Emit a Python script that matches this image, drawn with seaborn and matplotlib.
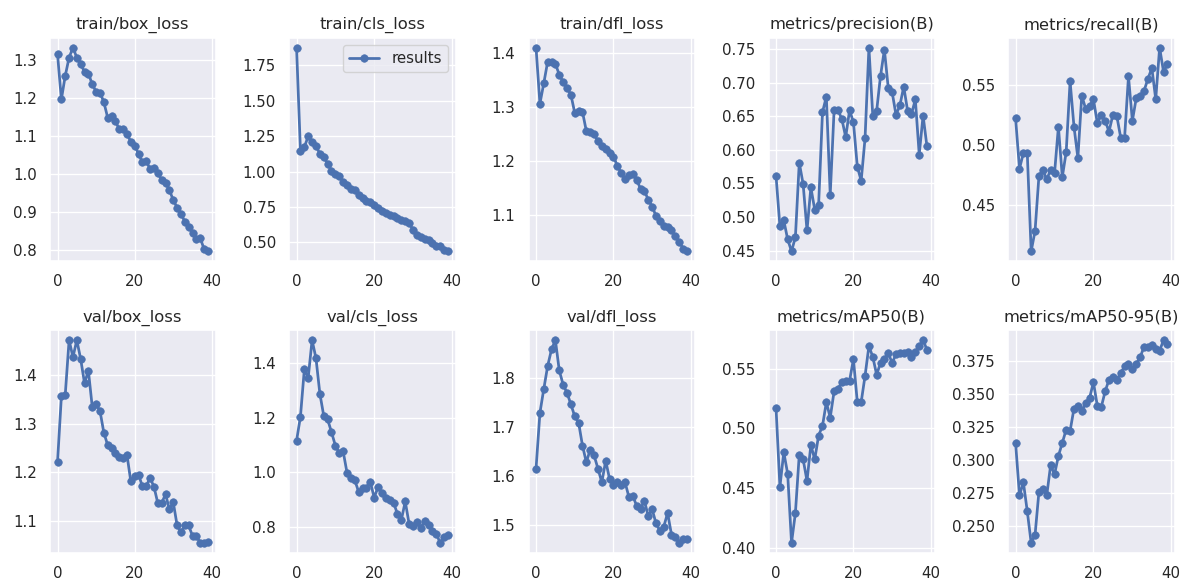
import numpy as np
import pandas as pd
import matplotlib
matplotlib.use("Agg")
import matplotlib.pyplot as plt
import seaborn as sns

epochs = list(range(40))

titles = ["train/box_loss", "train/cls_loss", "train/dfl_loss", "metrics/precision(B)", "metrics/recall(B)",
          "val/box_loss", "val/cls_loss", "val/dfl_loss", "metrics/mAP50(B)", "metrics/mAP50-95(B)"]

train_box_loss = [1.316, 1.197, 1.259, 1.307, 1.333, 1.307, 1.289, 1.270, 1.265, 1.237,
                  1.217, 1.215, 1.190, 1.149, 1.153, 1.140, 1.118, 1.118, 1.105, 1.086,
                  1.075, 1.054, 1.031, 1.035, 1.013, 1.015, 1.003, 0.985, 0.978, 0.958,
                  0.932, 0.912, 0.896, 0.875, 0.862, 0.845, 0.829, 0.831, 0.803, 0.797]
train_cls_loss = [1.874, 1.145, 1.173, 1.248, 1.208, 1.180, 1.126, 1.103, 1.056, 1.005,
                  0.986, 0.967, 0.928, 0.904, 0.874, 0.869, 0.834, 0.815, 0.792, 0.787,
                  0.764, 0.741, 0.724, 0.710, 0.694, 0.687, 0.671, 0.659, 0.652, 0.636,
                  0.589, 0.554, 0.537, 0.523, 0.514, 0.495, 0.477, 0.472, 0.449, 0.437]
train_dfl_loss = [1.410, 1.306, 1.344, 1.384, 1.383, 1.380, 1.360, 1.346, 1.335, 1.323,
                  1.289, 1.292, 1.291, 1.255, 1.254, 1.249, 1.237, 1.227, 1.222, 1.215,
                  1.208, 1.191, 1.177, 1.166, 1.173, 1.176, 1.165, 1.148, 1.144, 1.128,
                  1.115, 1.098, 1.088, 1.079, 1.077, 1.071, 1.060, 1.050, 1.037, 1.032]
precision = [0.561, 0.486, 0.495, 0.467, 0.449, 0.470, 0.581, 0.549, 0.480, 0.544,
             0.511, 0.518, 0.656, 0.679, 0.533, 0.659, 0.659, 0.646, 0.619, 0.659,
             0.641, 0.575, 0.554, 0.617, 0.752, 0.651, 0.658, 0.710, 0.749, 0.692,
             0.686, 0.652, 0.666, 0.694, 0.658, 0.653, 0.675, 0.593, 0.651, 0.605]
recall = [0.522, 0.480, 0.493, 0.493, 0.411, 0.428, 0.474, 0.479, 0.471, 0.479,
          0.476, 0.515, 0.473, 0.494, 0.553, 0.515, 0.489, 0.541, 0.530, 0.532,
          0.538, 0.518, 0.525, 0.520, 0.511, 0.525, 0.524, 0.506, 0.506, 0.557,
          0.520, 0.539, 0.541, 0.545, 0.555, 0.564, 0.538, 0.581, 0.561, 0.567]
val_box_loss = [1.221, 1.357, 1.360, 1.473, 1.438, 1.473, 1.434, 1.384, 1.410, 1.335,
                1.340, 1.327, 1.282, 1.256, 1.251, 1.239, 1.231, 1.229, 1.236, 1.181,
                1.193, 1.195, 1.171, 1.172, 1.188, 1.170, 1.136, 1.136, 1.155, 1.123,
                1.138, 1.090, 1.076, 1.090, 1.090, 1.068, 1.068, 1.054, 1.054, 1.056]
val_cls_loss = [1.116, 1.204, 1.376, 1.346, 1.483, 1.417, 1.288, 1.207, 1.194, 1.147,
                1.098, 1.071, 1.077, 0.999, 0.981, 0.972, 0.929, 0.942, 0.945, 0.966,
                0.908, 0.947, 0.924, 0.908, 0.900, 0.890, 0.848, 0.827, 0.894, 0.812,
                0.806, 0.818, 0.798, 0.822, 0.808, 0.786, 0.776, 0.743, 0.764, 0.770]
val_dfl_loss = [1.615, 1.729, 1.778, 1.825, 1.859, 1.878, 1.816, 1.787, 1.770, 1.747,
                1.722, 1.709, 1.662, 1.628, 1.654, 1.642, 1.615, 1.587, 1.631, 1.594,
                1.582, 1.588, 1.581, 1.587, 1.557, 1.559, 1.539, 1.533, 1.549, 1.518,
                1.532, 1.503, 1.488, 1.496, 1.524, 1.480, 1.474, 1.463, 1.470, 1.470]
map50 = [0.517, 0.451, 0.480, 0.462, 0.404, 0.429, 0.478, 0.474, 0.456, 0.486,
         0.474, 0.494, 0.502, 0.522, 0.509, 0.531, 0.533, 0.539, 0.540, 0.540,
         0.558, 0.522, 0.522, 0.544, 0.569, 0.560, 0.545, 0.555, 0.558, 0.563,
         0.555, 0.562, 0.563, 0.563, 0.564, 0.560, 0.564, 0.569, 0.574, 0.566]
map50_95 = [0.313, 0.273, 0.283, 0.261, 0.237, 0.243, 0.276, 0.278, 0.273, 0.296,
            0.289, 0.303, 0.313, 0.323, 0.322, 0.339, 0.341, 0.337, 0.343, 0.347,
            0.359, 0.341, 0.340, 0.352, 0.361, 0.363, 0.361, 0.366, 0.371, 0.373,
            0.369, 0.373, 0.378, 0.386, 0.386, 0.387, 0.384, 0.383, 0.391, 0.388]

series = [train_box_loss, train_cls_loss, train_dfl_loss, precision, recall,
          val_box_loss, val_cls_loss, val_dfl_loss, map50, map50_95]

sns.set_theme(style="darkgrid")
W, H = 1182, 580
fig, axes = plt.subplots(2, 5, figsize=(W / 98.5, H / 98.5), dpi=98.5)
axes = axes.ravel()

# pixel layout of the axes boxes (left, right) per column and (top, bottom) per row
col_px = [(50, 215.5), (289, 455.5), (528.5, 694.5), (768.5, 934.5), (1008, 1175)]
row_px = [(37.5, 261.5), (330, 553)]

color = sns.color_palette()[0]
for i, (ax, t, vals) in enumerate(zip(axes, titles, series)):
    df = pd.DataFrame({"epoch": epochs, "value": vals})
    sns.lineplot(data=df, x="epoch", y="value", ax=ax, color=color, marker="o",
                 markersize=5.5, markeredgecolor=color, markeredgewidth=0.5,
                 linewidth=2, label="results" if i == 1 else None, legend=(i == 1))
    ax.set_title(t, fontsize=12)
    ax.set_xlabel("")
    ax.set_ylabel("")
    ax.set_xticks([0, 20, 40])
    if i == 1:
        ax.legend(loc="upper right", fontsize=11)
    l, r = col_px[i % 5]
    tp, bt = row_px[i // 5]
    ax.set_position([l / W, 1 - bt / H, (r - l) / W, (bt - tp) / H])

fig.savefig("out.png")
